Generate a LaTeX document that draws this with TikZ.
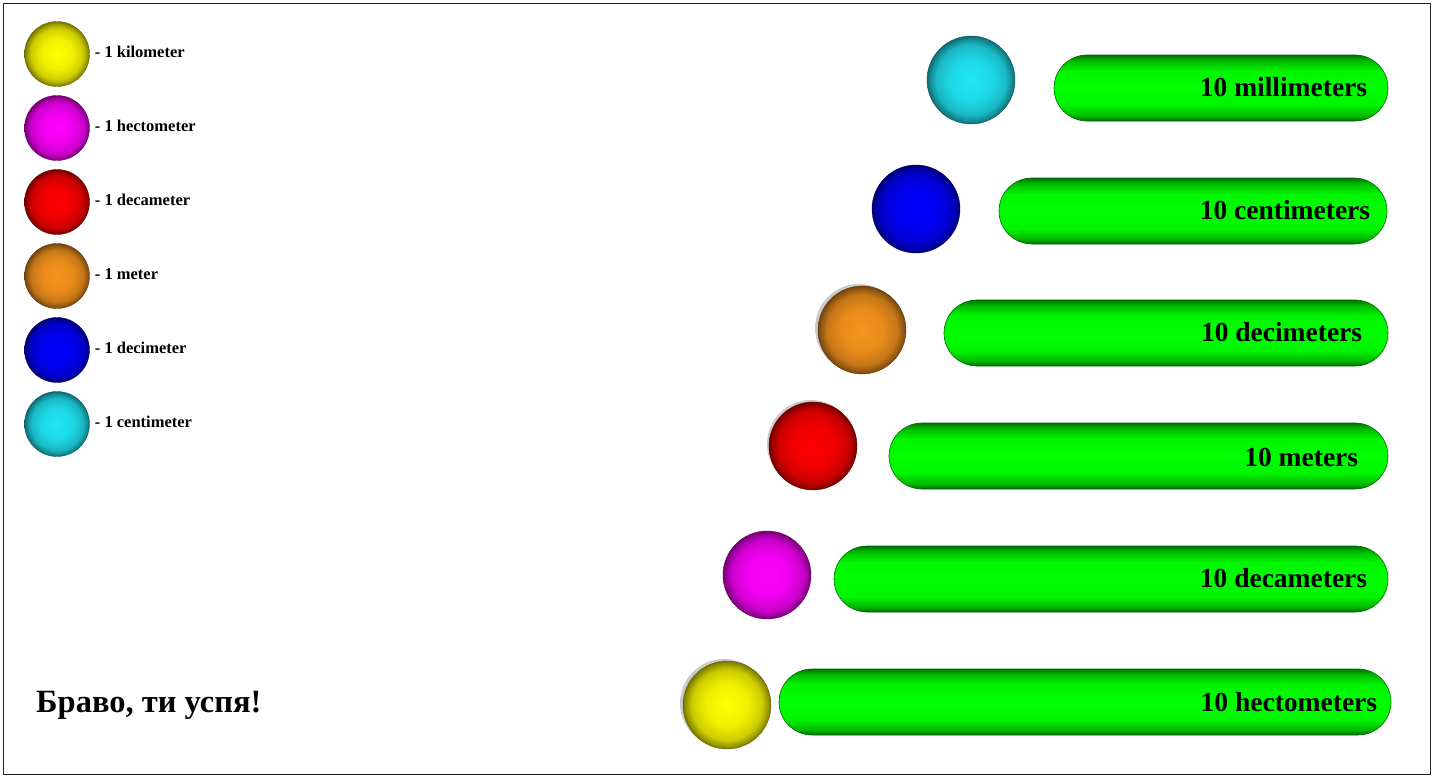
\documentclass[tikz,border=0pt]{standalone}
\usepackage{fontspec}
\setmainfont{Liberation Serif}
\usetikzlibrary{positioning}
\definecolor{frmc}{HTML}{222222}
\definecolor{kmc}{HTML}{FFFF00}
\definecolor{hmc}{HTML}{FF00FF}
\definecolor{damc}{HTML}{FF0000}
\definecolor{mc}{HTML}{F7941D}
\definecolor{dmc}{HTML}{0000FF}
\definecolor{cmc}{HTML}{1FE6F5}
\definecolor{barc}{HTML}{00FF00}
\definecolor{ghostc}{HTML}{B4B4B4}
\colorlet{ballc}{kmc}
\pgfdeclareradialshading[ballc]{sphere}{\pgfpoint{0bp}{0bp}}{%
  color(0bp)=(ballc); color(12bp)=(ballc!94!black); color(20bp)=(ballc!80!black);
  color(24bp)=(ballc!55!black); color(25bp)=(ballc!45!black); color(50bp)=(ballc!45!black)}
\pgfdeclareverticalshading{pill}{100bp}{%
  color(0bp)=(barc!45!black); color(25bp)=(barc!45!black); color(29bp)=(barc!72!black);
  color(37bp)=(barc!96!black); color(50bp)=(barc); color(63bp)=(barc!96!black);
  color(71bp)=(barc!72!black); color(75bp)=(barc!45!black); color(100bp)=(barc!45!black)}
\tikzset{
  ball/.style   ={circle,inner sep=0pt,line width=.4pt},
  legb/.style   ={ball,minimum size=65pt},
  bigb/.style   ={ball,minimum size=88pt},
  kmb/.style    ={/utils/exec=\colorlet{ballc}{kmc},shading=sphere,draw=kmc!40!black},
  hmb/.style    ={/utils/exec=\colorlet{ballc}{hmc},shading=sphere,draw=hmc!40!black},
  damb/.style   ={/utils/exec=\colorlet{ballc}{damc},shading=sphere,draw=damc!40!black},
  mb/.style     ={/utils/exec=\colorlet{ballc}{mc},shading=sphere,draw=mc!40!black},
  dmb/.style    ={/utils/exec=\colorlet{ballc}{dmc},shading=sphere,draw=dmc!40!black},
  cmb/.style    ={/utils/exec=\colorlet{ballc}{cmc},shading=sphere,draw=cmc!40!black},
  ghost/.style  ={circle,inner sep=0pt,minimum size=88pt,fill=ghostc!70},
  bar/.style    ={rectangle,rounded corners=33pt,minimum height=66pt,inner sep=0pt,
                  draw=barc!40!black,line width=.6pt,shading=pill},
  leg/.style    ={font=\fontsize{16.5}{18}\selectfont\bfseries,inner sep=0pt},
  barlbl/.style ={font=\fontsize{27.5}{30}\selectfont\bfseries,inner sep=0pt},
  ttl/.style    ={font=\fontsize{32.5}{36}\selectfont\bfseries,inner sep=0pt},
}

\begin{document}
\begin{tikzpicture}[x=1pt,y=-1pt]
\useasboundingbox (0,0) rectangle (1433,777);
\draw[frmc,line width=1pt] (3.5,3.5) rectangle (1430,774);

% ============================ legend ====================================
\node[legb,kmb]  (lkm)  at (57,54)  {};
\node[legb,hmb]  (lhm)  at (57,128) {};
\node[legb,damb] (ldam) at (57,202) {};
\node[legb,mb]   (lm)   at (57,276) {};
\node[legb,dmb]  (ldm)  at (57,350) {};
\node[legb,cmb]  (lcm)  at (57,424) {};
\node[leg,right=5pt of lkm,yshift=2pt]  (tkm)  {- 1 kilometer};
\node[leg,right=5pt of lhm,yshift=2pt]  (thm)  {- 1 hectometer};
\node[leg,right=5pt of ldam,yshift=2pt] (tdam) {- 1 decameter};
\node[leg,right=5pt of lm,yshift=2pt]   (tm)   {- 1 meter};
\node[leg,right=5pt of ldm,yshift=2pt]  (tdm)  {- 1 decimeter};
\node[leg,right=5pt of lcm,yshift=2pt]  (tcm)  {- 1 centimeter};

% ============================ balls =====================================
\node[ghost] (gm)   at (859,328) {};
\node[ghost] (gdam) at (811,444) {};
\node[ghost] (gkm)  at (724,703) {};
\node[bigb,cmb]  (bcm)  at (971,80)  {};
\node[bigb,dmb]  (bdm)  at (916,209) {};
\node[bigb,mb]   (bm)   at (862,330) {};
\node[bigb,damb] (bdam) at (813,446) {};
\node[bigb,hmb]  (bhm)  at (767,575) {};
\node[bigb,kmb]  (bkm)  at (727,705) {};

% ============================ bars ======================================
\node[bar,minimum width=334pt] (rmm)  at (1221,88)  {};
\node[bar,minimum width=388pt] (rcm)  at (1193,211) {};
\node[bar,minimum width=444pt] (rdm)  at (1166,333) {};
\node[bar,minimum width=499pt] (rm)   at (1138.5,456) {};
\node[bar,minimum width=554pt] (rdam) at (1111,579) {};
\node[bar,minimum width=612pt] (rhm)  at (1085,702) {};
\node[barlbl,left=21pt of rmm.east,yshift=1pt]  (smm)  {10 millimeters};
\node[barlbl,left=17pt of rcm.east,yshift=1pt]  (scm)  {10 centimeters};
\node[barlbl,left=26pt of rdm.east,yshift=1pt]  (sdm)  {10 decimeters};
\node[barlbl,left=30pt of rm.east,yshift=-1pt]  (sm)   {10 meters};
\node[barlbl,left=21pt of rdam.east,yshift=1pt] (sdam) {10 decameters};
\node[barlbl,left=14pt of rhm.east]  (shm)  {10 hectometers};

\node[ttl,anchor=west] (bravo) at (36,705) {Браво, ти успя!};
\end{tikzpicture}
\end{document}
